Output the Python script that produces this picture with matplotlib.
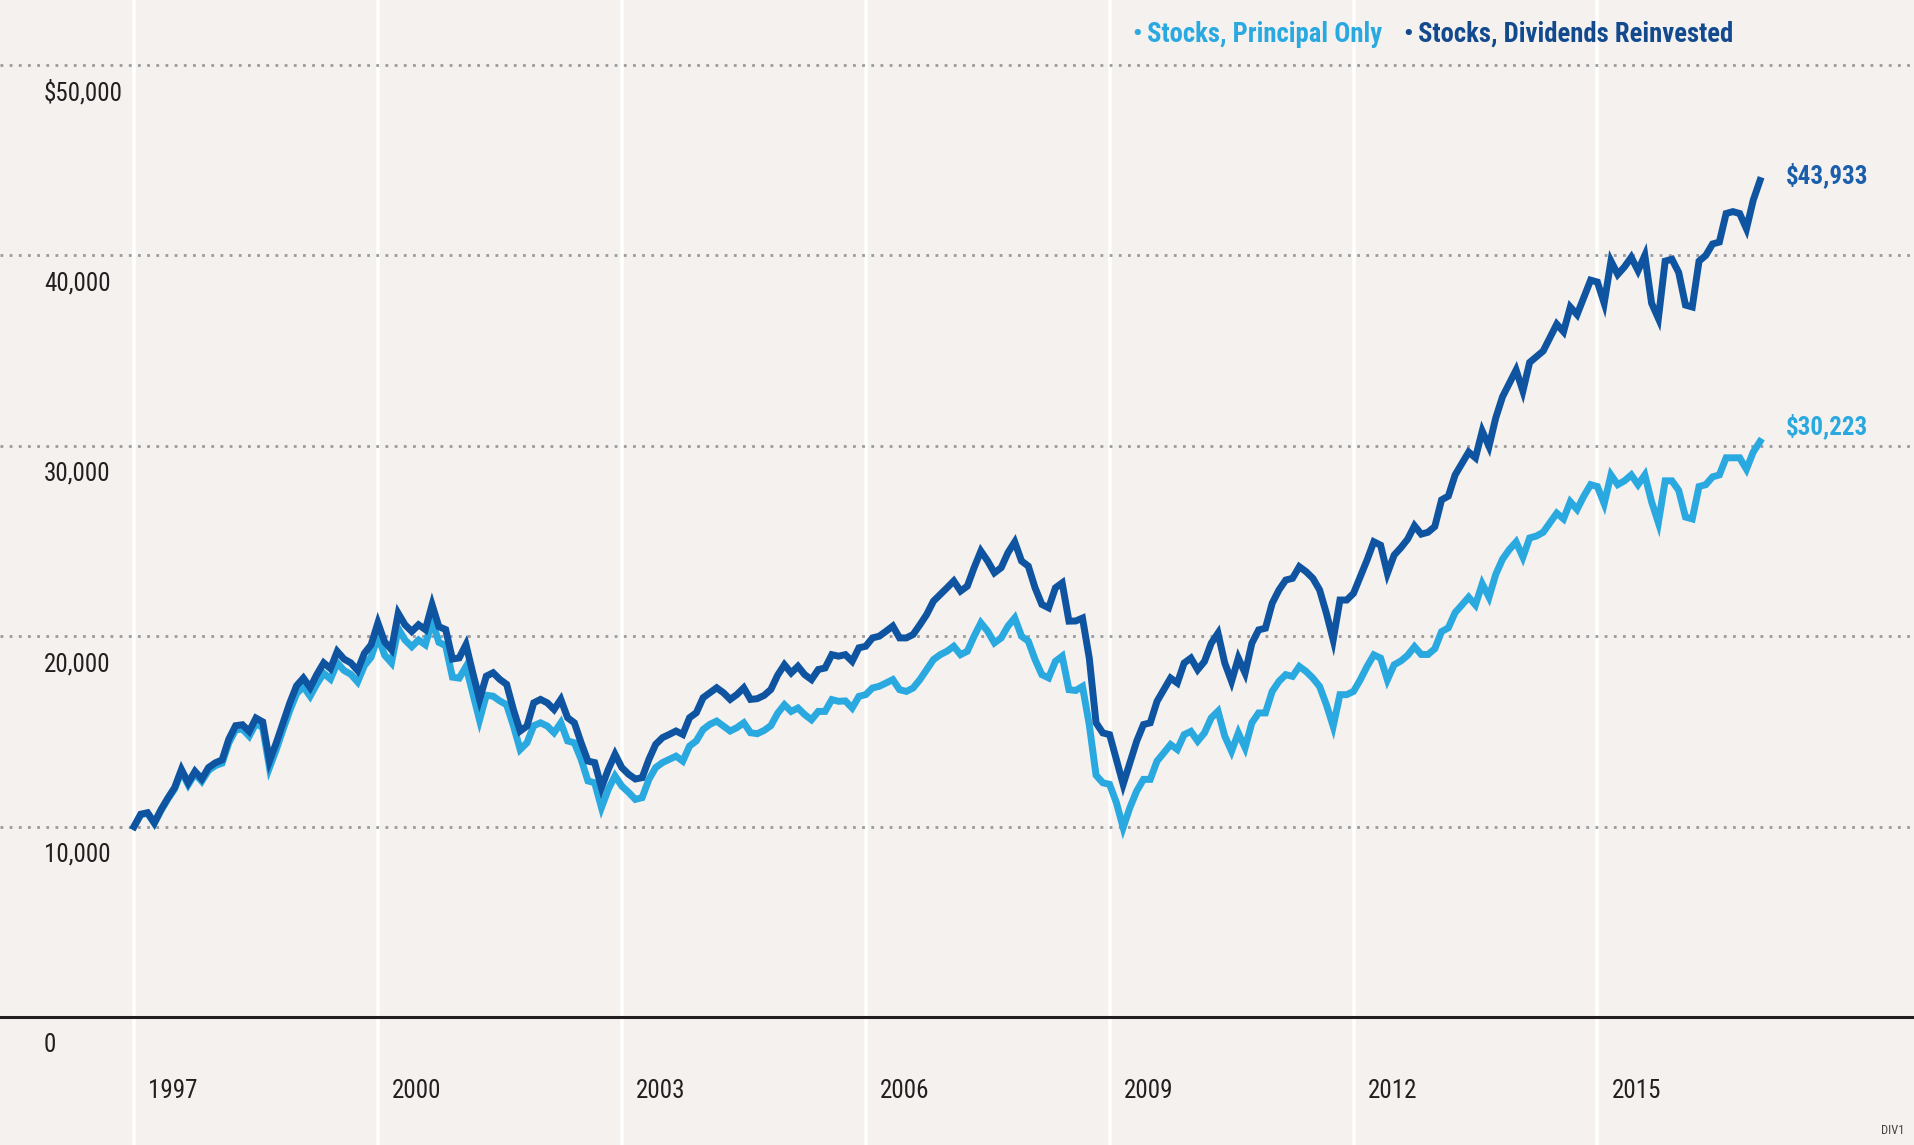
import matplotlib
matplotlib.use('Agg')
import matplotlib.pyplot as plt
from matplotlib import font_manager
import numpy as np

# pick a condensed face if one is installed
names = {f.name for f in font_manager.fontManager.ttflist}
font = next((n for n in ['Liberation Sans Narrow', 'Roboto Condensed', 'Open Sans Condensed',
                         'Liberation Sans'] if n in names), 'DejaVu Sans')
plt.rcParams['font.family'] = [font, 'DejaVu Sans']

# growth of $10,000, monthly, Jan 1997 - Jan 2017 (values in $ thousands)
dividends = [
    10.0, 10.65, 10.73, 10.2, 10.9, 11.5, 12.05, 13.0, 12.3, 12.9,
    12.5, 13.1, 13.35, 13.5, 14.6, 15.3, 15.35, 15.0, 15.7, 15.5,
    13.45, 14.4, 15.45, 16.5, 17.4, 17.8, 17.3, 18.0, 18.6, 18.3,
    19.2, 18.8, 18.6, 18.2, 19.1, 19.55, 20.7, 19.7, 19.3, 21.2,
    20.6, 20.25, 20.6, 20.35, 21.65, 20.5, 20.35, 18.8, 18.86, 19.56,
    18.08, 16.68, 17.9, 18.08, 17.73, 17.47, 16.15, 15.02, 15.28, 16.5,
    16.68, 16.5, 16.15, 16.68, 15.72, 15.45, 14.4, 13.44, 13.36, 12.05,
    13.0, 13.8, 13.1, 12.75, 12.5, 12.57, 13.53, 14.32, 14.67, 14.84,
    15.02, 14.84, 15.72, 15.98, 16.77, 17.03, 17.29, 17.03, 16.68, 16.94,
    17.29, 16.68, 16.72, 16.89, 17.2, 17.95, 18.5, 18.07, 18.42, 17.98,
    17.72, 18.25, 18.33, 19.03, 18.95, 19.03, 18.68, 19.39, 19.47, 19.91,
    20.0, 20.26, 20.53, 19.91, 19.91, 20.09, 20.6, 21.14, 21.84, 22.19,
    22.54, 22.9, 22.37, 22.63, 23.6, 24.47, 23.95, 23.33, 23.6, 24.39,
    24.95, 23.95, 23.68, 22.54, 21.67, 21.49, 22.54, 22.8, 20.79, 20.8,
    20.95, 18.85, 15.45, 14.92, 14.83, 13.53, 12.22, 13.35, 14.49, 15.36,
    15.45, 16.58, 17.19, 17.8, 17.54, 18.59, 18.85, 18.24, 18.67, 19.63,
    20.16, 18.59, 17.63, 18.85, 18.06, 19.63, 20.33, 20.42, 21.73, 22.43,
    22.95, 23.04, 23.65, 23.39, 23.04, 22.43, 21.2, 19.81, 21.9, 21.9,
    22.25, 23.12, 24.0, 24.96, 24.78, 23.3, 24.26, 24.65, 25.1, 25.8,
    25.36, 25.46, 25.76, 27.16, 27.36, 28.47, 29.07, 29.67, 29.37, 30.77,
    29.97, 31.47, 32.58, 33.28, 33.98, 32.88, 34.38, 34.68, 34.98, 35.69,
    36.39, 35.99, 37.29, 36.89, 37.79, 38.7, 38.6, 37.49, 39.7, 39.0,
    39.4, 39.9, 39.2, 40.0, 37.49, 36.69, 39.7, 39.8, 39.1, 37.39,
    37.29, 39.7, 40.0, 40.6, 40.7, 42.2, 42.3, 42.2, 41.4, 42.9,
    43.933,
]
principal = [
    10.0, 10.63, 10.7, 10.17, 10.85, 11.45, 11.98, 12.9, 12.2, 12.78,
    12.38, 12.95, 13.2, 13.33, 14.4, 15.08, 15.12, 14.75, 15.42, 15.2,
    13.1, 14.05, 15.1, 16.1, 16.98, 17.35, 16.85, 17.5, 18.05, 17.75,
    18.6, 18.2, 18.0, 17.6, 18.45, 18.9, 20.0, 19.0, 18.6, 20.4,
    19.8, 19.45, 19.8, 19.55, 20.8, 19.68, 19.5, 17.85, 17.8, 18.4,
    17.0, 15.6, 16.9, 16.85, 16.6, 16.4, 15.3, 14.05, 14.4, 15.3,
    15.45, 15.28, 14.93, 15.45, 14.5, 14.4, 13.53, 12.4, 12.3, 11.0,
    11.96, 12.66, 12.13, 11.8, 11.43, 11.52, 12.48, 13.1, 13.36, 13.53,
    13.7, 13.44, 14.23, 14.5, 15.1, 15.37, 15.54, 15.28, 15.02, 15.2,
    15.45, 14.93, 14.88, 15.05, 15.3, 15.95, 16.4, 16.05, 16.23, 15.88,
    15.61, 16.05, 16.05, 16.67, 16.58, 16.6, 16.23, 16.84, 16.93, 17.28,
    17.37, 17.54, 17.72, 17.19, 17.1, 17.28, 17.72, 18.25, 18.77, 19.03,
    19.21, 19.47, 19.03, 19.21, 20.0, 20.7, 20.26, 19.65, 19.91, 20.53,
    20.96, 20.0, 19.74, 18.77, 17.98, 17.81, 18.68, 18.95, 17.19, 17.15,
    17.36, 15.35, 12.7, 12.3, 12.22, 11.26, 9.95, 11.0, 11.87, 12.48,
    12.48, 13.44, 13.87, 14.31, 14.05, 14.83, 15.0, 14.49, 14.92, 15.71,
    16.06, 14.75, 13.96, 14.92, 14.14, 15.45, 15.97, 15.97, 17.1, 17.63,
    17.98, 17.89, 18.41, 18.15, 17.8, 17.36, 16.4, 15.27, 16.93, 16.93,
    17.1, 17.71, 18.41, 19.02, 18.85, 17.71, 18.5, 18.7, 19.0, 19.45,
    19.04, 19.04, 19.34, 20.24, 20.44, 21.24, 21.64, 22.05, 21.64, 22.75,
    22.05, 23.25, 24.05, 24.55, 24.95, 24.15, 25.16, 25.26, 25.46, 25.96,
    26.46, 26.16, 27.06, 26.66, 27.36, 27.96, 27.86, 26.96, 28.47, 27.96,
    28.16, 28.47, 27.96, 28.47, 27.06, 25.96, 28.16, 28.16, 27.66, 26.26,
    26.16, 27.86, 27.96, 28.37, 28.47, 29.37, 29.37, 29.37, 28.77, 29.67,
    30.223,
]
dates = 1997 + np.arange(len(dividends)) / 12

year_ticks = [1997, 2000, 2003, 2006, 2009, 2012, 2015]
value_ticks = [0, 10, 20, 30, 40, 50]
value_labels = ['0', '10,000', '20,000', '30,000', '40,000', '$50,000']

light = '#2aa9e0'
dark = '#0f54a0'
bg = '#f4f1ee'
W, H = 1915, 1145

fig = plt.figure(figsize=(W / 100, H / 100), dpi=100, facecolor=bg)
ax = fig.add_axes([0, 0, 1, 1])
ax.set_facecolor(bg)
ax.set_xlim(1997 - 134 / 81.3, 1997 + (W - 134) / 81.3)
ax.set_ylim(-(H - 1017) / 19.04, 1017 / 19.04)
ax.axis('off')

for yr in year_ticks:
    ax.axvline(yr, color='white', lw=2.6, zorder=1)
for v in value_ticks[1:]:
    ax.axhline(v, color='#9b9b9b', lw=2.0, ls=(0, (1, 2.3)), zorder=2)
ax.axhline(0, color='#231f20', lw=2.2, zorder=2)

ax.plot(dates, principal, color=light, lw=5, zorder=3, solid_joinstyle='miter')
ax.plot(dates, dividends, color=dark, lw=5, zorder=4, solid_joinstyle='miter')

# tick labels
for v, lab in zip(value_ticks, value_labels):
    fig.text(44 / W, 1 - (1017 - v * 19.04 + 28) / H, lab, ha='left', va='center',
             fontsize=18, color='#231f20')
for yr in year_ticks:
    xp = 134 + (yr - 1997) * 81.3 + 14
    fig.text(xp / W, 1 - 1091 / H, str(yr), ha='left', va='center',
             fontsize=18, color='#231f20')

# end labels
fig.text(1786 / W, 1 - 175 / H, '$43,933', ha='left', va='center',
         fontsize=18, fontweight='bold', color='#1b5eab')
fig.text(1786 / W, 1 - 426 / H, '$30,223', ha='left', va='center',
         fontsize=18, fontweight='bold', color=light)

# legend
legend = [('Stocks, Principal Only', light, 1137), ('Stocks, Dividends Reinvested', '#134a8e', 1408)]
for lab, col, xb in legend:
    fig.text(xb / W, 1 - 34 / H, '\u2022', ha='center', va='center',
             fontsize=19, fontweight='bold', color=col)
    fig.text((xb + 10) / W, 1 - 34 / H, lab, ha='left', va='center',
             fontsize=19.2, fontweight='bold', color=col)

fig.text(1905 / W, 1 - 1131 / H, 'DIV1', ha='right', va='center', fontsize=9, color='#444444')

fig.savefig('out.png', dpi=100, facecolor=bg)
